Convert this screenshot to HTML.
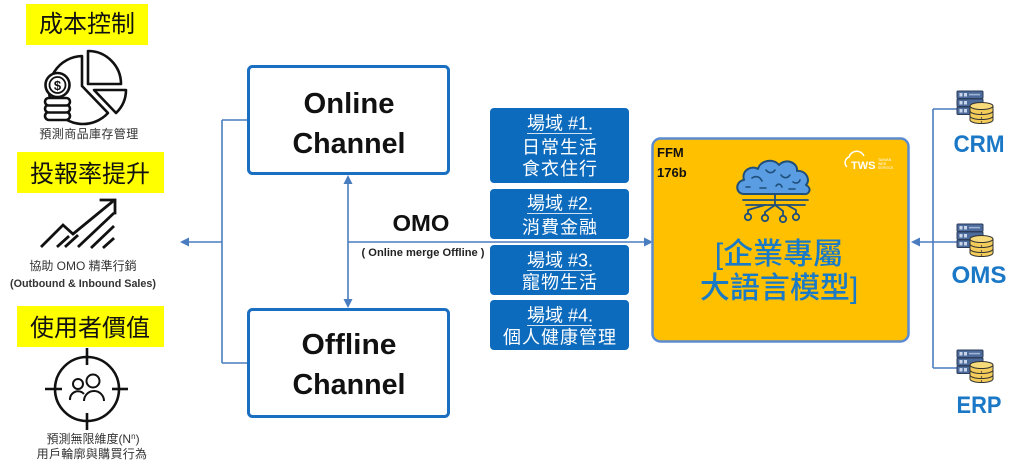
<!DOCTYPE html>
<html><head><meta charset="utf-8">
<style>
html,body{margin:0;padding:0;background:#fff;}
body{width:1024px;height:469px;overflow:hidden;}
svg{display:block;}
.cjk{font-family:"Liberation Sans","Noto Sans CJK TC",sans-serif;}
</style></head>
<body>
<svg width="1024" height="469" viewBox="0 0 1024 469" xmlns="http://www.w3.org/2000/svg">
<defs>
  <g id="srv">
    <rect x="0" y="0" width="26" height="7.5" rx="1" fill="#4d6b9a" stroke="#2c3e5c" stroke-width="1"/>
    <rect x="0" y="8" width="26" height="7.5" rx="1" fill="#4d6b9a" stroke="#2c3e5c" stroke-width="1"/>
    <rect x="0" y="16" width="26" height="7.5" rx="1" fill="#4d6b9a" stroke="#2c3e5c" stroke-width="1"/>
    <rect x="2.5" y="2" width="3" height="3.5" fill="#c9d6ea"/><rect x="7" y="2" width="3" height="3.5" fill="#c9d6ea"/><rect x="12" y="2.8" width="11" height="1.6" fill="#9fb4d6"/>
    <rect x="2.5" y="10" width="3" height="3.5" fill="#c9d6ea"/><rect x="7" y="10" width="3" height="3.5" fill="#c9d6ea"/>
    <rect x="2.5" y="18" width="3" height="3.5" fill="#c9d6ea"/><rect x="7" y="18" width="3" height="3.5" fill="#c9d6ea"/>
    <path d="M13,15 L13,29 A11.5,3.5 0 0 0 36,29 L36,15 Z" fill="#f3cc5a" stroke="#333" stroke-width="1"/>
    <ellipse cx="24.5" cy="15" rx="11.5" ry="3.5" fill="#f7da7a" stroke="#333" stroke-width="1"/>
    <path d="M13,20 A11.5,3.5 0 0 0 36,20" fill="none" stroke="#333" stroke-width="1"/>
    <path d="M13,25 A11.5,3.5 0 0 0 36,25" fill="none" stroke="#333" stroke-width="1"/>
    <circle cx="24.5" cy="22" r="0.7" fill="#333"/><circle cx="24.5" cy="27" r="0.7" fill="#333"/><circle cx="24.5" cy="31" r="0.7" fill="#333"/>
  </g>
</defs>

<!-- ===== Left column ===== -->
<rect x="26" y="4" width="122" height="41" fill="#ffff00"/>
<text x="87" y="32" text-anchor="middle" class="cjk" font-size="24" fill="#111">成本控制</text>

<g fill="none" stroke="#111" stroke-width="2.6" stroke-linejoin="round">
  <path d="M82,56 L82,86 L108,113 A34,34 0 1 1 82,56 Z" fill="#fff"/>
  <path d="M88,51 L88,84 L121,84 A33,33 0 0 0 88,51 Z" fill="#fff"/>
  <path d="M94,90 L126,90 A32,32 0 0 1 116,113 Z" fill="#fff"/>
  <rect x="45" y="112" width="25" height="8" rx="4" fill="#fff"/>
  <rect x="45" y="105" width="25" height="7.5" rx="3.7" fill="#fff"/>
  <rect x="45" y="98" width="25" height="7.5" rx="3.7" fill="#fff"/>
  <circle cx="57.5" cy="85" r="12" fill="#fff"/>
  <circle cx="57.5" cy="85" r="8" stroke-width="1.8"/>
</g>
<text x="57.5" y="90" text-anchor="middle" font-family="Liberation Sans,sans-serif" font-weight="bold" font-size="13" fill="#111">$</text>
<text x="89" y="138" text-anchor="middle" class="cjk" font-size="12" letter-spacing="0.4" fill="#333">預測商品庫存管理</text>

<rect x="17" y="152" width="147" height="41" fill="#ffff00"/>
<text x="90" y="182" text-anchor="middle" class="cjk" font-size="24" fill="#111">投報率提升</text>

<g fill="none" stroke="#111" stroke-width="2.8" stroke-linecap="square" stroke-linejoin="miter">
  <polyline points="42,246 63,225 73,234 112,202"/>
  <polyline points="101,200 115,200 115,213"/>
  <line x1="58" y1="246" x2="68" y2="237"/>
  <line x1="66" y1="246" x2="77" y2="236"/>
  <line x1="79" y1="246" x2="113" y2="214"/>
  <line x1="92" y1="247" x2="113" y2="227"/>
  <line x1="104" y1="247" x2="113" y2="239"/>
</g>
<text x="83" y="270" text-anchor="middle" class="cjk" font-size="12" fill="#333">協助 OMO 精準行銷</text>
<text x="83" y="287" text-anchor="middle" font-family="Liberation Sans,sans-serif" font-weight="bold" font-size="11" textLength="146" lengthAdjust="spacingAndGlyphs" fill="#333">(Outbound &amp; Inbound Sales)</text>

<rect x="17" y="306" width="147" height="41" fill="#ffff00"/>
<text x="90" y="336" text-anchor="middle" class="cjk" font-size="24" fill="#111">使用者價值</text>

<g fill="none" stroke="#111" stroke-width="2.6">
  <circle cx="87" cy="389" r="32"/>
  <line x1="45" y1="389" x2="62" y2="389"/>
  <line x1="112" y1="389" x2="128" y2="389"/>
  <line x1="87" y1="348" x2="87" y2="365"/>
  <line x1="87" y1="413" x2="87" y2="430"/>
  <circle cx="78" cy="384" r="5" stroke-width="2"/>
  <circle cx="93" cy="381" r="6.5" stroke-width="2"/>
  <path d="M70,400 A8,8 0 0 1 84,394" stroke-width="2"/>
  <path d="M84,401 A10,10 0 0 1 104,401" stroke-width="2"/>
</g>
<text x="93" y="443" text-anchor="middle" class="cjk" font-size="12" fill="#333">預測無限維度(N<tspan font-size="8" dy="-4">n</tspan><tspan dy="4">)</tspan></text>
<text x="92" y="458" text-anchor="middle" class="cjk" font-size="12" letter-spacing="0.3" fill="#333">用戶輪廓與購買行為</text>

<!-- ===== Connectors ===== -->
<g stroke="#4a7dc0" stroke-width="1.6" fill="none">
  <line x1="222" y1="120" x2="222" y2="363"/>
  <line x1="222" y1="120" x2="248" y2="120"/>
  <line x1="222" y1="363" x2="248" y2="363"/>
  <line x1="188" y1="242" x2="222" y2="242"/>
  <line x1="348" y1="183" x2="348" y2="300"/>
  <line x1="348" y1="242" x2="644" y2="242"/>
  <line x1="933" y1="109" x2="933" y2="368"/>
  <line x1="933" y1="109" x2="957" y2="109"/>
  <line x1="919" y1="242" x2="957" y2="242"/>
  <line x1="933" y1="368" x2="957" y2="368"/>
</g>
<g fill="#4a7dc0">
  <polygon points="180,242 189,237.5 189,246.5"/>
  <polygon points="348,175 343.5,184 352.5,184"/>
  <polygon points="348,308 343.5,299 352.5,299"/>
  <polygon points="653,242 644,237.5 644,246.5"/>
  <polygon points="911,242 920,237.5 920,246.5"/>
</g>

<!-- ===== Channel boxes ===== -->
<rect x="248.5" y="66.5" width="200" height="107" rx="4" fill="#fff" stroke="#1a6fc0" stroke-width="3"/>
<text x="349" y="113" text-anchor="middle" font-family="Liberation Sans,sans-serif" font-weight="bold" font-size="28.5" textLength="91" lengthAdjust="spacingAndGlyphs" fill="#111">Online</text>
<text x="349" y="153" text-anchor="middle" font-family="Liberation Sans,sans-serif" font-weight="bold" font-size="28.5" textLength="113" lengthAdjust="spacingAndGlyphs" fill="#111">Channel</text>

<rect x="248.5" y="309.5" width="200" height="107" rx="4" fill="#fff" stroke="#1a6fc0" stroke-width="3"/>
<text x="349" y="354" text-anchor="middle" font-family="Liberation Sans,sans-serif" font-weight="bold" font-size="28.5" textLength="95" lengthAdjust="spacingAndGlyphs" fill="#111">Offline</text>
<text x="349" y="394" text-anchor="middle" font-family="Liberation Sans,sans-serif" font-weight="bold" font-size="28.5" textLength="113" lengthAdjust="spacingAndGlyphs" fill="#111">Channel</text>

<text x="421" y="231" text-anchor="middle" font-family="Liberation Sans,sans-serif" font-weight="bold" font-size="23" textLength="57" lengthAdjust="spacingAndGlyphs" fill="#111">OMO</text>
<text x="423" y="256" text-anchor="middle" class="cjk" font-weight="bold" font-size="11" textLength="123" lengthAdjust="spacingAndGlyphs" fill="#222">( Online merge Offline )</text>

<!-- ===== Domain boxes ===== -->
<g fill="#0d6bbd">
  <rect x="490" y="108" width="139" height="75" rx="4"/>
  <rect x="490" y="189" width="139" height="50" rx="4"/>
  <rect x="490" y="245" width="139" height="50" rx="4"/>
  <rect x="490" y="300" width="139" height="50" rx="4"/>
</g>
<g stroke="#cfe0f3" stroke-width="1">
  <line x1="527" y1="133.5" x2="592" y2="133.5"/>
  <line x1="527" y1="213.5" x2="592" y2="213.5"/>
  <line x1="527" y1="270.5" x2="592" y2="270.5"/>
  <line x1="527" y1="325.5" x2="592" y2="325.5"/>
</g>
<g class="cjk" font-size="18" fill="#fff" text-anchor="middle">
  <text x="560" y="129.5">場域 #1.</text>
  <text x="560" y="153.5" letter-spacing="1">日常生活</text>
  <text x="560" y="175" letter-spacing="1">食衣住行</text>
  <text x="560" y="209.5">場域 #2.</text>
  <text x="560" y="233.5" letter-spacing="1">消費金融</text>
  <text x="560" y="266.5">場域 #3.</text>
  <text x="560" y="288.5" letter-spacing="1">寵物生活</text>
  <text x="560" y="321.5">場域 #4.</text>
  <text x="560" y="343.5" letter-spacing="1">個人健康管理</text>
</g>

<!-- ===== FFM box ===== -->
<rect x="652.5" y="138.5" width="256" height="203" rx="8" fill="#ffc000" stroke="#5b8bd0" stroke-width="2.5"/>
<text x="657" y="157" font-family="Liberation Sans,sans-serif" font-weight="bold" font-size="13" fill="#111">FFM</text>
<text x="657" y="177" font-family="Liberation Sans,sans-serif" font-weight="bold" font-size="13" fill="#111">176b</text>

<g fill="none" stroke="#fff" stroke-width="1.5">
  <path d="M847,167 A6,6 0 0 1 849,157 A8,8 0 0 1 864,156"/>
</g>
<text x="851" y="169" font-family="Liberation Sans,sans-serif" font-weight="bold" font-size="11" fill="#fff">TWS</text>
<text x="878" y="161" font-family="Liberation Sans,sans-serif" font-size="3.5" fill="#fff">TAIWAN</text>
<text x="878" y="165" font-family="Liberation Sans,sans-serif" font-size="3.5" fill="#fff">WEB</text>
<text x="878" y="169" font-family="Liberation Sans,sans-serif" font-size="3.5" fill="#fff">SERVICE</text>

<g stroke="#1f4e79" stroke-width="2" stroke-linecap="round" stroke-linejoin="round">
  <path d="M744,194 C735,194 735,181 744,180 C741,170 752,165 758,169 C760,160 774,158 779,165 C785,158 798,162 797,171 C806,170 811,180 806,185 C812,188 810,195 803,194 Z" fill="#5b9de3"/>
  <g fill="none" stroke-width="1.6">
    <path d="M752,178 C756,175 760,177 762,181"/>
    <path d="M766,170 C769,174 773,173 775,170"/>
    <path d="M781,175 C784,179 788,178 790,175"/>
    <path d="M793,182 C796,184 799,183 800,180"/>
    <path d="M760,188 L766,188"/>
    <path d="M776,186 C778,183 781,184 782,187"/>
    <path d="M789,189 L795,189"/>
    <path d="M746,187 L750,187"/>
  </g>
  <g fill="none" stroke-width="1.8">
    <line x1="743" y1="200" x2="808" y2="200"/>
    <line x1="746" y1="205" x2="805" y2="205"/>
    <path d="M775,194 L775,205"/>
    <path d="M775,205 L765,212 L765,214"/>
    <path d="M775,205 L783,211 L783,215"/>
    <path d="M765,205 L748,210 L748,213"/>
    <path d="M787,205 L796,210 L796,213"/>
  </g>
  <g fill="#ffc000" stroke-width="1.8">
    <circle cx="748" cy="217" r="3.2"/>
    <circle cx="765" cy="218" r="3.2"/>
    <circle cx="783" cy="219" r="3.2"/>
    <circle cx="796" cy="217" r="3.2"/>
  </g>
</g>

<text x="779" y="264" text-anchor="middle" class="cjk" font-size="30" font-weight="500" fill="#1a7ac6">[企業專屬</text>
<text x="779" y="298" text-anchor="middle" class="cjk" font-size="30" font-weight="500" fill="#1a7ac6">大語言模型]</text>

<!-- ===== Right systems ===== -->
<use href="#srv" x="957" y="91"/>
<use href="#srv" x="957" y="224"/>
<use href="#srv" x="957" y="350"/>
<g font-family="Liberation Sans,sans-serif" font-weight="bold" font-size="24" fill="#1a78c6" text-anchor="middle">
  <text x="979" y="152" textLength="51" lengthAdjust="spacingAndGlyphs">CRM</text>
  <text x="979" y="283" textLength="55" lengthAdjust="spacingAndGlyphs">OMS</text>
  <text x="979" y="413" textLength="45" lengthAdjust="spacingAndGlyphs">ERP</text>
</g>
</svg>
</body></html>
